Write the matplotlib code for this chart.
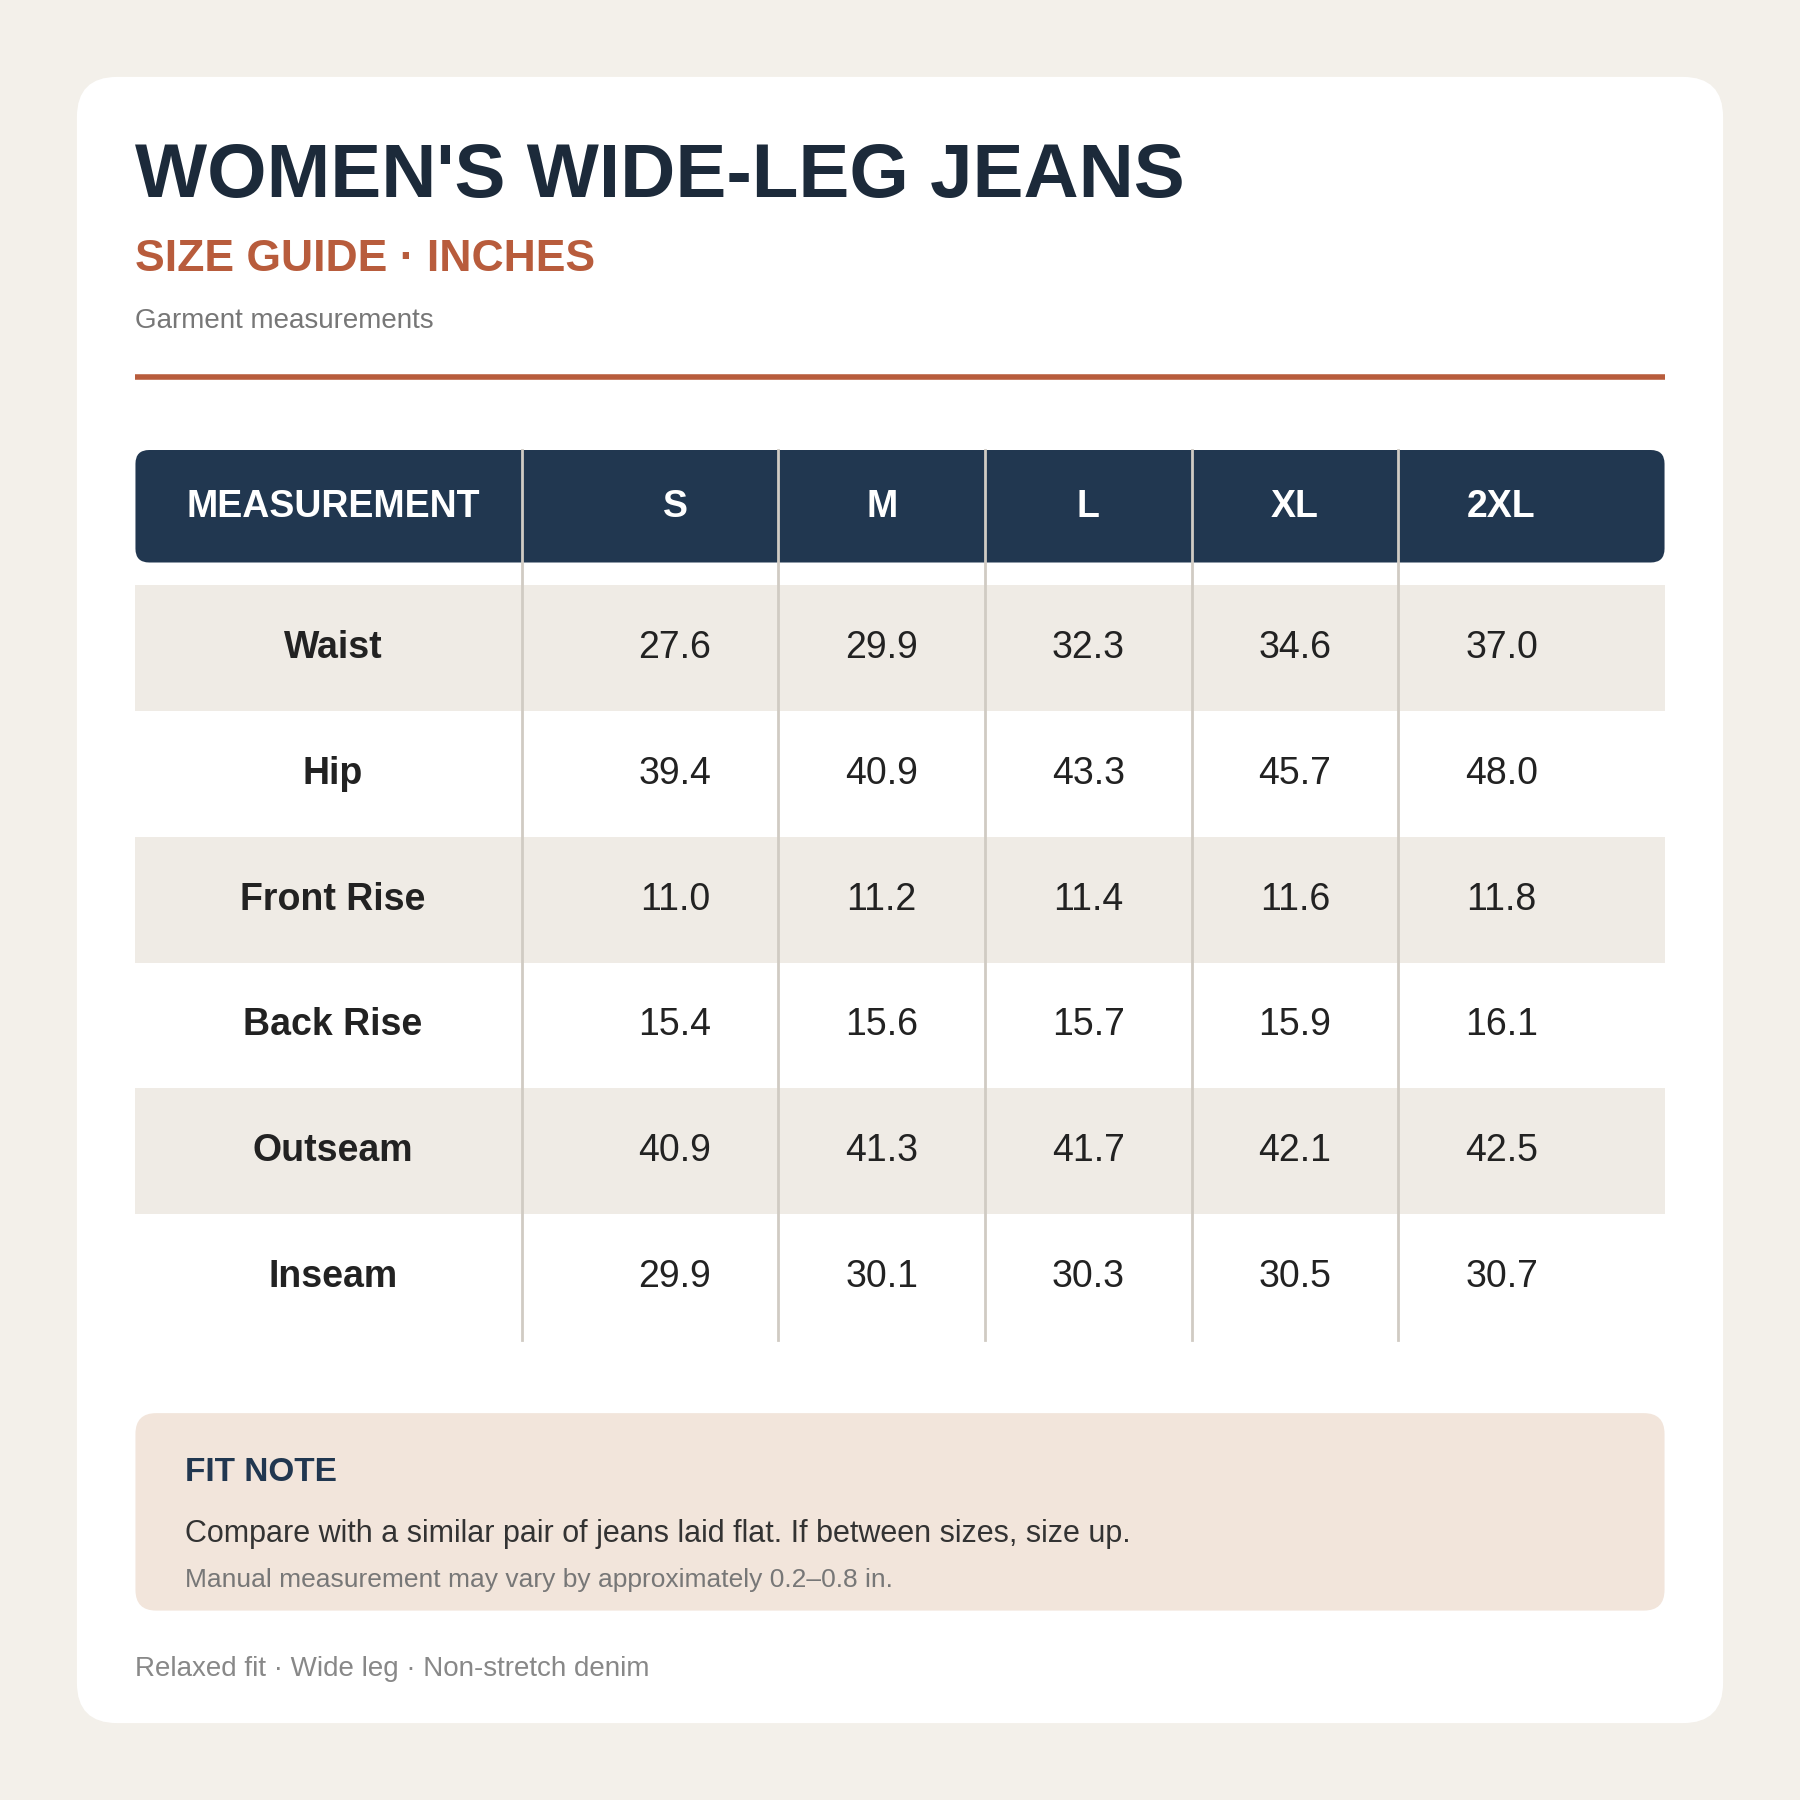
import matplotlib
matplotlib.use("Agg")
import matplotlib.pyplot as plt
from matplotlib.patches import FancyBboxPatch, Rectangle

plt.rcParams['font.family'] = ['Liberation Sans', 'DejaVu Sans']

sizes = ["S", "M", "L", "XL", "2XL"]
measurements = ["Waist", "Hip", "Front Rise", "Back Rise", "Outseam", "Inseam"]
values = [
    [27.6, 29.9, 32.3, 34.6, 37.0],
    [39.4, 40.9, 43.3, 45.7, 48.0],
    [11.0, 11.2, 11.4, 11.6, 11.8],
    [15.4, 15.6, 15.7, 15.9, 16.1],
    [40.9, 41.3, 41.7, 42.1, 42.5],
    [29.9, 30.1, 30.3, 30.5, 30.7],
]

fig = plt.figure(figsize=(18, 18), dpi=100)
fig.patch.set_facecolor("#f3f0ea")
ax = fig.add_axes([0, 0, 1, 1])
ax.set_xlim(0, 1568); ax.set_ylim(1568, 0); ax.axis("off")

def rbox(x, y, w, h, r, c):
    ax.add_patch(FancyBboxPatch((x + r, y + r), w - 2 * r, h - 2 * r,
                                boxstyle=f"round,pad={r}", fc=c, ec="none"))

rbox(67, 67, 1434, 1434, 35, "white")
ax.text(118, 155, "WOMEN'S WIDE-LEG JEANS", fontsize=55, fontweight="bold", color="#1c2a3a", va="center")
ax.text(118, 226, "SIZE GUIDE · INCHES", fontsize=32, fontweight="bold", color="#b85c3c", va="center")
ax.text(118, 280, "Garment measurements", fontsize=20, color="#777777", va="center")
ax.plot([118, 1450], [328, 328], color="#b85c3c", lw=4, solid_capstyle="butt")

rbox(118, 392, 1332, 98, 12, "#213750")
colx = [588, 768, 948, 1128, 1308]
ax.text(290, 442, "MEASUREMENT", fontsize=27, fontweight="bold", color="white", ha="center", va="center")
for x, s in zip(colx, sizes):
    ax.text(x, 442, s, fontsize=27, fontweight="bold", color="white", ha="center", va="center")

top, rh = 510, 109.5
for i, (m, row) in enumerate(zip(measurements, values)):
    y = top + i * rh
    if i % 2 == 0:
        ax.add_patch(Rectangle((118, y), 1332, rh, fc="#efebe5", ec="none"))
    yc = y + rh / 2
    ax.text(290, yc, m, fontsize=27, fontweight="bold", color="#222222", ha="center", va="center")
    for x, v in zip(colx, row):
        ax.text(x, yc, f"{v:.1f}", fontsize=27, color="#222222", ha="center", va="center")

for x in [455, 678, 858, 1038, 1218]:
    ax.plot([x, x], [392, top + 6 * rh], color="#d0cbc3", lw=2)

rbox(118, 1231, 1332, 172, 18, "#f2e5db")
ax.text(161, 1283, "FIT NOTE", fontsize=24, fontweight="bold", color="#213750", va="center")
ax.text(161, 1336, "Compare with a similar pair of jeans laid flat. If between sizes, size up.",
        fontsize=22, color="#333333", va="center")
ax.text(161, 1376, "Manual measurement may vary by approximately 0.2–0.8 in.",
        fontsize=19, color="#777777", va="center")
ax.text(118, 1454, "Relaxed fit · Wide leg · Non-stretch denim", fontsize=20, color="#888888", va="center")

fig.savefig("out.png", dpi=100, facecolor=fig.get_facecolor())
